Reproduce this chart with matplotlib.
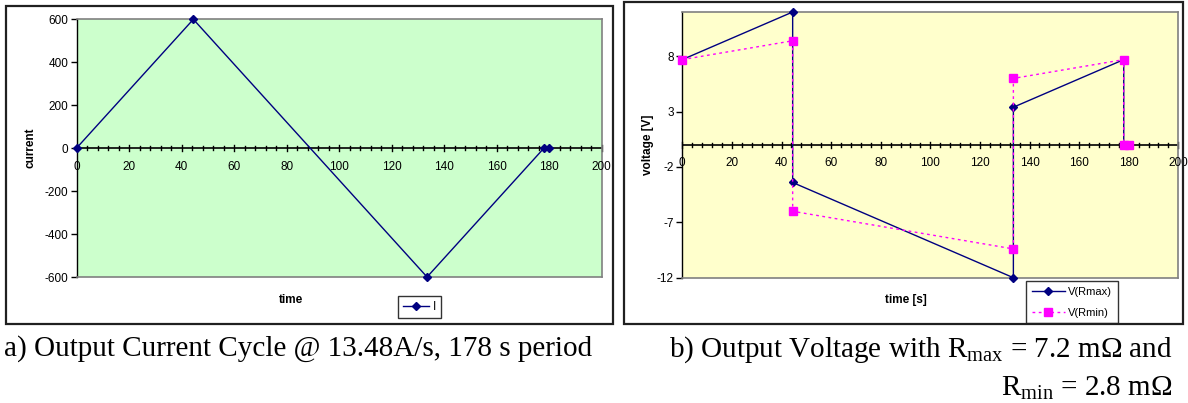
import matplotlib
matplotlib.use("Agg")
import matplotlib.pyplot as plt
from matplotlib.patches import Rectangle
from matplotlib.ticker import MultipleLocator

plt.rcParams['font.family'] = ['Liberation Sans', 'DejaVu Sans']
plt.rcParams['mathtext.fontset'] = 'custom'
plt.rcParams['mathtext.rm'] = 'Liberation Serif'
plt.rcParams['mathtext.it'] = 'Liberation Serif:italic'
plt.rcParams['axes.unicode_minus'] = False

# current cycle data
t_current = [0, 44.5, 133.5, 178, 180]
current = [0, 600, -600, 0, 0]

# voltage data (switching points repeated)
t_voltage = [0, 44.5, 44.5, 133.5, 133.5, 178, 178, 180]
v_rmax = [7.7, 12.0, -3.4, -12.0, 3.4, 7.7, 0, 0]
v_rmin = [7.7, 9.4, -6.0, -9.4, 6.0, 7.7, 0, 0]

x_ticks = list(range(0, 201, 20))
current_ticks = [-600, -400, -200, 0, 200, 400, 600]
voltage_ticks = [-12, -7, -2, 3, 8]

W, H = 1188, 403
fig = plt.figure(figsize=(W / 100, H / 100), dpi=100)


def px_rect(x0, y0, x1, y1):
    # pixel box -> figure fraction
    return [x0 / W, 1 - y1 / H, (x1 - x0) / W, (y1 - y0) / H]


def style_axes(ax, face):
    ax.set_facecolor(face)
    for s in ['top', 'right', 'bottom']:
        ax.spines[s].set_color('#808080')
        ax.spines[s].set_linewidth(1.2)
    ax.spines['left'].set_color('black')
    ax.spines['left'].set_linewidth(1.0)
    ax.set_xlim(0, 200)
    ax.tick_params(axis='y', direction='out', length=4, width=1, labelsize=8.5, pad=2)
    ax.tick_params(axis='x', which='both', bottom=False, labelbottom=False)


# ---- left chart: current ----
fig.patches.append(Rectangle((6 / W, 1 - 323.5 / H), (613 - 6) / W, (323.5 - 5.7) / H,
                             transform=fig.transFigure, fill=False, edgecolor='#202020',
                             linewidth=1.6, figure=fig))
ax1 = fig.add_axes(px_rect(76.5, 19.3, 601.7, 277))
style_axes(ax1, '#CCFFCC')
ax1.set_ylim(-600, 600)
ax1.set_yticks(current_ticks)
ax1.axhline(0, color='black', lw=1.2, zorder=2)
# x axis at zero with crossing ticks
for xv in range(0, 201, 4):
    h = 0.012 if xv % 20 == 0 else 0.008
    ax1.plot([xv, xv], [-h * 1200, h * 1200], color='black', lw=1, zorder=2, clip_on=False)
for xv in x_ticks:
    ax1.text(xv, -60, str(xv), ha='center', va='top', fontsize=8.5, zorder=3)
ax1.plot(t_current, current, color='#000080', lw=1, marker='D', markersize=4.2,
         label='I', zorder=4, clip_on=False)
fig.text(291 / W, 1 - 300 / H, 'time', ha='center', va='center', fontsize=8.5, fontweight='bold')
fig.text(31 / W, 1 - 148 / H, 'current', ha='center', va='center', rotation=90,
         fontsize=8.5, fontweight='bold')
leg1 = ax1.legend(loc='upper left', bbox_to_anchor=(398 / W, 1 - 295.7 / H),
                  bbox_transform=fig.transFigure, fontsize=8.5, frameon=True, fancybox=False,
                  handlelength=2.2, handletextpad=0.3, borderpad=0.45, borderaxespad=0)
leg1.get_frame().set_edgecolor('black')
leg1.get_frame().set_linewidth(1)

# ---- right chart: voltage ----
fig.patches.append(Rectangle((624 / W, 1 - 324 / H), (1183 - 624) / W, (324 - 1.5) / H,
                             transform=fig.transFigure, fill=False, edgecolor='#202020',
                             linewidth=1.6, figure=fig))
ax2 = fig.add_axes(px_rect(682.3, 12, 1178.3, 277.7))
style_axes(ax2, '#FFFFCC')
ax2.set_ylim(-12, 12)
ax2.set_yticks(voltage_ticks)
ax2.axhline(0, color='black', lw=1.2, zorder=2)
for xv in range(0, 201, 4):
    h = 0.28 if xv % 20 == 0 else 0.19
    ax2.plot([xv, xv], [-h, h], color='black', lw=1, zorder=2, clip_on=False)
for xv in x_ticks:
    ax2.text(xv, -1.1, str(xv), ha='center', va='top', fontsize=8.5, zorder=3)
ax2.plot(t_voltage, v_rmax, color='#000080', lw=1, marker='D', markersize=4.0,
         label='V(Rmax)', zorder=4, clip_on=False)
ax2.plot(t_voltage, v_rmin, color='#FF00FF', lw=1, linestyle=(0, (2, 2.5)), marker='s',
         markersize=5.5, label='V(Rmin)', zorder=5, clip_on=False)
fig.text(906 / W, 1 - 300 / H, 'time [s]', ha='center', va='center', fontsize=8.5,
         fontweight='bold')
fig.text(648 / W, 1 - 145 / H, 'voltage [V]', ha='center', va='center', rotation=90,
         fontsize=8.5, fontweight='bold')
leg2 = ax2.legend(loc='upper left', bbox_to_anchor=(1026 / W, 1 - 281 / H),
                  bbox_transform=fig.transFigure, fontsize=8, frameon=True, fancybox=False,
                  handlelength=3.0, handletextpad=0.3, borderpad=0.5, labelspacing=1.0,
                  borderaxespad=0)
leg2.get_frame().set_edgecolor('black')
leg2.get_frame().set_linewidth(1)

# ---- captions ----
cap = dict(fontsize=21, family='Liberation Serif', va='baseline')
fig.text(4 / W, 1 - 356 / H, 'a) Output Current Cycle @ 13.48A/s, 178 s period', ha='left', **cap)
fig.text(1173 / W, 1 - 356.5 / H, r'b) Output Voltage with R$_\mathrm{max}$ = 7.2 m$\Omega$ and',
         ha='right', **cap)
fig.text(1173 / W, 1 - 396 / H, r'R$_\mathrm{min}$ = 2.8 m$\Omega$', ha='right', **cap)

fig.savefig('out.png', dpi=100)
